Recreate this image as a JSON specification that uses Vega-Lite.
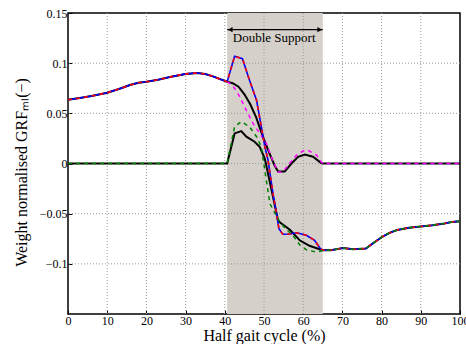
{
  "$schema": "https://vega.github.io/schema/vega-lite/v6.json",
  "autosize": {"type": "none"},
  "padding": {"left": 68, "top": 13, "right": 6, "bottom": 30},
  "width": 392,
  "height": 301,
  "config": {
    "font": "Liberation Serif",
    "view": {"stroke": "black", "strokeWidth": 1.5},
    "axis": {
      "labelFont": "Liberation Serif",
      "titleFont": "Liberation Serif",
      "labelFontSize": 12,
      "titleFontSize": 16,
      "titleFontWeight": "normal",
      "labelColor": "black",
      "titleColor": "black",
      "labelOverlap": false,
      "domain": false,
      "grid": false,
      "ticks": true,
      "tickSize": -4,
      "tickColor": "black",
      "labelPadding": 5
    }
  },
  "datasets": {
    "curves": [
      {"s": "total", "x": 0, "y": 0.0635}, {"s": "total", "x": 3, "y": 0.0652}, {"s": "total", "x": 6, "y": 0.0672},
      {"s": "total", "x": 10, "y": 0.0705}, {"s": "total", "x": 13, "y": 0.0742}, {"s": "total", "x": 16, "y": 0.0785},
      {"s": "total", "x": 18, "y": 0.0805}, {"s": "total", "x": 20, "y": 0.0815}, {"s": "total", "x": 23, "y": 0.0835},
      {"s": "total", "x": 26, "y": 0.0862}, {"s": "total", "x": 30, "y": 0.0893}, {"s": "total", "x": 33, "y": 0.0902},
      {"s": "total", "x": 35, "y": 0.0892}, {"s": "total", "x": 37, "y": 0.0868}, {"s": "total", "x": 39, "y": 0.0838},
      {"s": "total", "x": 40.6, "y": 0.0815}, {"s": "total", "x": 42.5, "y": 0.1068}, {"s": "total", "x": 44.5, "y": 0.1045},
      {"s": "total", "x": 46.3, "y": 0.083}, {"s": "total", "x": 48.1, "y": 0.063}, {"s": "total", "x": 49.3, "y": 0.037},
      {"s": "total", "x": 50.2, "y": 0.017}, {"s": "total", "x": 51, "y": 0.004}, {"s": "total", "x": 52.3, "y": -0.03},
      {"s": "total", "x": 53.2, "y": -0.05}, {"s": "total", "x": 53.8, "y": -0.065}, {"s": "total", "x": 54.8, "y": -0.0705},
      {"s": "total", "x": 56.6, "y": -0.0703}, {"s": "total", "x": 58.3, "y": -0.069}, {"s": "total", "x": 60.8, "y": -0.0715},
      {"s": "total", "x": 62.9, "y": -0.0765}, {"s": "total", "x": 64.2, "y": -0.084}, {"s": "total", "x": 65, "y": -0.0865},
      {"s": "total", "x": 67, "y": -0.0865}, {"s": "total", "x": 70.2, "y": -0.0842}, {"s": "total", "x": 72.7, "y": -0.0855},
      {"s": "total", "x": 76, "y": -0.0847}, {"s": "total", "x": 78, "y": -0.079}, {"s": "total", "x": 80, "y": -0.0735},
      {"s": "total", "x": 82, "y": -0.0692}, {"s": "total", "x": 84, "y": -0.0662}, {"s": "total", "x": 87, "y": -0.064},
      {"s": "total", "x": 90, "y": -0.0628}, {"s": "total", "x": 93, "y": -0.0615}, {"s": "total", "x": 96, "y": -0.0598},
      {"s": "total", "x": 98, "y": -0.0582}, {"s": "total", "x": 100, "y": -0.0575},

      {"s": "legA", "x": 0, "y": 0}, {"s": "legA", "x": 40.6, "y": 0}, {"s": "legA", "x": 42.5, "y": 0.03},
      {"s": "legA", "x": 44.2, "y": 0.0323}, {"s": "legA", "x": 45.5, "y": 0.0267}, {"s": "legA", "x": 47.6, "y": 0.0217},
      {"s": "legA", "x": 48.9, "y": 0.0167}, {"s": "legA", "x": 50.2, "y": 0.005}, {"s": "legA", "x": 53.6, "y": -0.057},
      {"s": "legA", "x": 54.2, "y": -0.059}, {"s": "legA", "x": 56.6, "y": -0.066}, {"s": "legA", "x": 59.1, "y": -0.0765},
      {"s": "legA", "x": 61.6, "y": -0.082}, {"s": "legA", "x": 64.2, "y": -0.0855}, {"s": "legA", "x": 65, "y": -0.0865},
      {"s": "legA", "x": 67, "y": -0.0865}, {"s": "legA", "x": 70.2, "y": -0.0842}, {"s": "legA", "x": 72.7, "y": -0.0855},
      {"s": "legA", "x": 76, "y": -0.0847}, {"s": "legA", "x": 78, "y": -0.079}, {"s": "legA", "x": 80, "y": -0.0735},
      {"s": "legA", "x": 82, "y": -0.0692}, {"s": "legA", "x": 84, "y": -0.0662}, {"s": "legA", "x": 87, "y": -0.064},
      {"s": "legA", "x": 90, "y": -0.0628}, {"s": "legA", "x": 93, "y": -0.0615}, {"s": "legA", "x": 96, "y": -0.0598},
      {"s": "legA", "x": 98, "y": -0.0582}, {"s": "legA", "x": 100, "y": -0.0575},

      {"s": "legB", "x": 0, "y": 0.0635}, {"s": "legB", "x": 3, "y": 0.0652}, {"s": "legB", "x": 6, "y": 0.0672},
      {"s": "legB", "x": 10, "y": 0.0705}, {"s": "legB", "x": 13, "y": 0.0742}, {"s": "legB", "x": 16, "y": 0.0785},
      {"s": "legB", "x": 18, "y": 0.0805}, {"s": "legB", "x": 20, "y": 0.0815}, {"s": "legB", "x": 23, "y": 0.0835},
      {"s": "legB", "x": 26, "y": 0.0862}, {"s": "legB", "x": 30, "y": 0.0893}, {"s": "legB", "x": 33, "y": 0.0902},
      {"s": "legB", "x": 35, "y": 0.0892}, {"s": "legB", "x": 37, "y": 0.0868}, {"s": "legB", "x": 39, "y": 0.0838},
      {"s": "legB", "x": 40.6, "y": 0.0815}, {"s": "legB", "x": 42, "y": 0.08}, {"s": "legB", "x": 43.5, "y": 0.0765},
      {"s": "legB", "x": 45, "y": 0.069}, {"s": "legB", "x": 46.5, "y": 0.059}, {"s": "legB", "x": 48, "y": 0.046},
      {"s": "legB", "x": 49.7, "y": 0.027}, {"s": "legB", "x": 51.4, "y": 0.01}, {"s": "legB", "x": 52.7, "y": -0.002},
      {"s": "legB", "x": 53.6, "y": -0.008}, {"s": "legB", "x": 55.3, "y": -0.008}, {"s": "legB", "x": 57, "y": 0},
      {"s": "legB", "x": 58.7, "y": 0.0067}, {"s": "legB", "x": 60.4, "y": 0.009}, {"s": "legB", "x": 62.5, "y": 0.0067},
      {"s": "legB", "x": 64.6, "y": 0.0005}, {"s": "legB", "x": 65, "y": 0}, {"s": "legB", "x": 100, "y": 0},

      {"s": "legBpred", "x": 40.6, "y": 0.0815}, {"s": "legBpred", "x": 41.3, "y": 0.08}, {"s": "legBpred", "x": 42.5, "y": 0.075},
      {"s": "legBpred", "x": 43.8, "y": 0.0666}, {"s": "legBpred", "x": 45.5, "y": 0.053}, {"s": "legBpred", "x": 47.2, "y": 0.04},
      {"s": "legBpred", "x": 48.9, "y": 0.03}, {"s": "legBpred", "x": 50.6, "y": 0.02}, {"s": "legBpred", "x": 52, "y": 0.005},
      {"s": "legBpred", "x": 53.6, "y": -0.0084}, {"s": "legBpred", "x": 54.8, "y": -0.0084}, {"s": "legBpred", "x": 56.5, "y": 0},
      {"s": "legBpred", "x": 58.3, "y": 0.0083}, {"s": "legBpred", "x": 60, "y": 0.0125}, {"s": "legBpred", "x": 61.2, "y": 0.0133},
      {"s": "legBpred", "x": 63.4, "y": 0.0083}, {"s": "legBpred", "x": 64.9, "y": 0}, {"s": "legBpred", "x": 100, "y": 0},

      {"s": "legApred", "x": 0, "y": 0}, {"s": "legApred", "x": 40.6, "y": 0}, {"s": "legApred", "x": 42.5, "y": 0.0367},
      {"s": "legApred", "x": 44.2, "y": 0.0417}, {"s": "legApred", "x": 46.3, "y": 0.0367}, {"s": "legApred", "x": 48.1, "y": 0.0267},
      {"s": "legApred", "x": 49.3, "y": 0.0167}, {"s": "legApred", "x": 51.5, "y": -0.04}, {"s": "legApred", "x": 54, "y": -0.058},
      {"s": "legApred", "x": 55.5, "y": -0.065}, {"s": "legApred", "x": 57.4, "y": -0.0717}, {"s": "legApred", "x": 59.1, "y": -0.081},
      {"s": "legApred", "x": 60.8, "y": -0.086}, {"s": "legApred", "x": 63.4, "y": -0.0883}, {"s": "legApred", "x": 64.6, "y": -0.0873},
      {"s": "legApred", "x": 65, "y": -0.0865}, {"s": "legApred", "x": 67, "y": -0.0865}, {"s": "legApred", "x": 70.2, "y": -0.0842},
      {"s": "legApred", "x": 72.7, "y": -0.0855}, {"s": "legApred", "x": 76, "y": -0.0847}, {"s": "legApred", "x": 78, "y": -0.079},
      {"s": "legApred", "x": 80, "y": -0.0735}, {"s": "legApred", "x": 82, "y": -0.0692}, {"s": "legApred", "x": 84, "y": -0.0662},
      {"s": "legApred", "x": 87, "y": -0.064}, {"s": "legApred", "x": 90, "y": -0.0628}, {"s": "legApred", "x": 93, "y": -0.0615},
      {"s": "legApred", "x": 96, "y": -0.0598}, {"s": "legApred", "x": 98, "y": -0.0582}, {"s": "legApred", "x": 100, "y": -0.0575}
    ],
    "shade": [{"start": 40.6, "end": 65, "lo": -0.15, "hi": 0.15, "ay": 0.1334, "mid": 52.6, "ly": 0.1207, "label": "Double Support"}],
    "heads": [{"x": 41.4, "y": 0.1334, "dir": "left"}, {"x": 64.2, "y": 0.1334, "dir": "right"}],
    "xgrid": [{"v": 10}, {"v": 20}, {"v": 30}, {"v": 40}, {"v": 50}, {"v": 60}, {"v": 70}, {"v": 80}, {"v": 90}],
    "ygrid": [{"v": -0.1}, {"v": -0.05}, {"v": 0}, {"v": 0.05}, {"v": 0.1}]
  },
  "layer": [
    {
      "data": {"name": "shade"},
      "mark": {"type": "rect", "color": "#d5d1ca"},
      "encoding": {
        "x": {"field": "start", "type": "quantitative", "scale": {"domain": [0, 100], "nice": false},
          "axis": {"title": "Half gait cycle (%)", "values": [0, 10, 20, 30, 40, 50, 60, 70, 80, 90, 100], "tickCount": 11, "format": "d", "labelOverlap": false, "labelFlush": false, "labelBound": false, "labelSeparation": 0, "titleX": 196, "titleY": 26, "titleBaseline": "alphabetic", "titleAnchor": "middle"}},
        "x2": {"field": "end"},
        "y": {"field": "lo", "type": "quantitative", "scale": {"domain": [-0.15, 0.15], "nice": false, "zero": false},
          "axis": {"title": "Weight normalised GRFₘₗ(−)", "values": [-0.1, -0.05, 0, 0.05, 0.1, 0.15], "format": ".2~f", "labelOverlap": false, "labelFlush": false, "titleX": -42, "titleY": 159, "titleBaseline": "alphabetic", "titleAngle": -90, "titleAlign": "center"}},
        "y2": {"field": "hi"}
      }
    },
    {
      "data": {"name": "xgrid"},
      "mark": {"type": "rule", "color": "#9a9a9a", "strokeWidth": 1, "strokeDash": [1, 2]},
      "encoding": {"x": {"field": "v", "type": "quantitative", "axis": {"title": "Half gait cycle (%)", "values": [0, 10, 20, 30, 40, 50, 60, 70, 80, 90, 100], "labelOverlap": false}}}
    },
    {
      "data": {"name": "ygrid"},
      "mark": {"type": "rule", "color": "#9a9a9a", "strokeWidth": 1, "strokeDash": [1, 2]},
      "encoding": {"y": {"field": "v", "type": "quantitative"}}
    },
    {
      "data": {"name": "curves"},
      "encoding": {
        "x": {"field": "x", "type": "quantitative", "axis": {"title": "Half gait cycle (%)", "values": [0, 10, 20, 30, 40, 50, 60, 70, 80, 90, 100], "labelOverlap": false}},
        "y": {"field": "y", "type": "quantitative"}
      },
      "layer": [
        {"transform": [{"filter": "datum.s == 'legB'"}], "mark": {"type": "line", "color": "black", "strokeWidth": 2}},
        {"transform": [{"filter": "datum.s == 'legA'"}], "mark": {"type": "line", "color": "black", "strokeWidth": 2}},
        {"transform": [{"filter": "datum.s == 'legBpred'"}], "mark": {"type": "line", "color": "#ff00ff", "strokeWidth": 1.5, "strokeDash": [4, 4]}},
        {"transform": [{"filter": "datum.s == 'total'"}], "mark": {"type": "line", "color": "#0000ff", "strokeWidth": 1.6}},
        {"transform": [{"filter": "datum.s == 'total'"}], "mark": {"type": "line", "color": "#ff0000", "strokeWidth": 1.6, "strokeDash": [4, 4]}},
        {"transform": [{"filter": "datum.s == 'legApred'"}], "mark": {"type": "line", "color": "#008000", "strokeWidth": 1.5, "strokeDash": [4, 4]}}
      ]
    },
    {
      "data": {"name": "shade"},
      "mark": {"type": "rule", "color": "black", "strokeWidth": 1.2},
      "encoding": {
        "x": {"field": "start", "type": "quantitative", "axis": {"title": "Half gait cycle (%)", "values": [0, 10, 20, 30, 40, 50, 60, 70, 80, 90, 100], "labelOverlap": false}},
        "x2": {"field": "end"},
        "y": {"field": "ay", "type": "quantitative"}
      }
    },
    {
      "data": {"name": "heads"},
      "mark": {"type": "point", "filled": true, "color": "black", "size": 28, "opacity": 1},
      "encoding": {
        "x": {"field": "x", "type": "quantitative", "axis": {"title": "Half gait cycle (%)", "values": [0, 10, 20, 30, 40, 50, 60, 70, 80, 90, 100], "labelOverlap": false}},
        "y": {"field": "y", "type": "quantitative"},
        "shape": {"field": "dir", "type": "nominal", "scale": {"domain": ["left", "right"], "range": ["triangle-left", "triangle-right"]}, "legend": null}
      }
    },
    {
      "data": {"name": "shade"},
      "mark": {"type": "text", "font": "Liberation Serif", "fontSize": 13, "color": "black", "align": "center", "baseline": "alphabetic"},
      "encoding": {
        "x": {"field": "mid", "type": "quantitative", "axis": {"title": "Half gait cycle (%)", "values": [0, 10, 20, 30, 40, 50, 60, 70, 80, 90, 100], "labelOverlap": false}},
        "y": {"field": "ly", "type": "quantitative"},
        "text": {"field": "label"}
      }
    }
  ]
}
